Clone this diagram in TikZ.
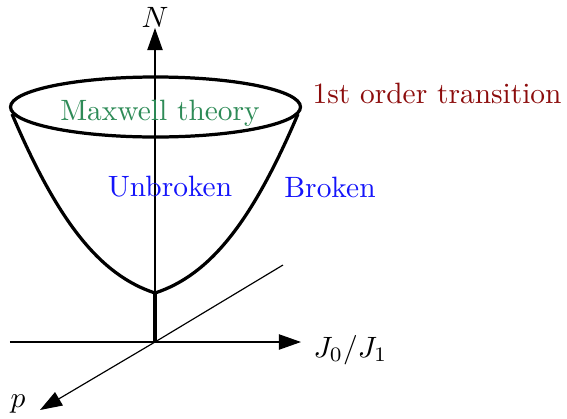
\documentclass[tikz,border=0pt]{standalone}
\usetikzlibrary{arrows.meta}
\definecolor{maxgreen}{RGB}{46,139,87}
\definecolor{trred}{RGB}{140,12,12}
\definecolor{phblue}{RGB}{20,20,250}
\begin{document}
\begin{tikzpicture}[x=0.34pt,y=-0.34pt,
  axis/.style={line width=0.4pt,-{Triangle[length=7.5pt,width=5.2pt]}},
  thin axis/.style={line width=0.4pt},
  surf/.style={line width=1.1pt},
  lbl/.style={inner sep=0pt}]
\useasboundingbox (0,0) rectangle (567,418);
\coordinate (O) at (155,342);
\coordinate (Ntip) at (155,28);
\coordinate (Xleft) at (10,342);
\coordinate (Xtip) at (301,342);
\coordinate (Pback) at (283,265);
\coordinate (Ptip) at (40,410);
\coordinate (V) at (155,293);
\coordinate (L) at (12,114);
\coordinate (R) at (298,114);
\coordinate (C) at (155.5,107);
% axes
\draw[axis] (O) -- (Ntip);
\draw[axis] (Xleft) -- (Xtip);
\draw[thin axis] (O) -- (Pback);
\draw[axis] (O) -- (Ptip);
% surface
\draw[surf] (C) ellipse [x radius=49.3pt, y radius=10.2pt];
\draw[surf,line join=miter] (L) .. controls (58,222) and (100,275) .. (V)
  .. controls (210,275) and (252,222) .. (R);
\draw[surf] (V) -- (O);
% labels
\node[lbl] (nN) at (155,17) {$N$};
\node[lbl,anchor=west] (nJ) at (313,350) {$J_0/J_1$};
\node[lbl] (np) at (18,404) {$p$};
\node[lbl,text=maxgreen] (nMax) at (160,113) {Maxwell theory};
\node[lbl,text=phblue] (nUnb) at (170,187) {Unbroken};
\node[lbl,text=phblue] (nBro) at (330,187) {Broken};
\node[lbl,text=trred,anchor=west] (nTr) at (312,93) {1st order transition};
\end{tikzpicture}
\end{document}
